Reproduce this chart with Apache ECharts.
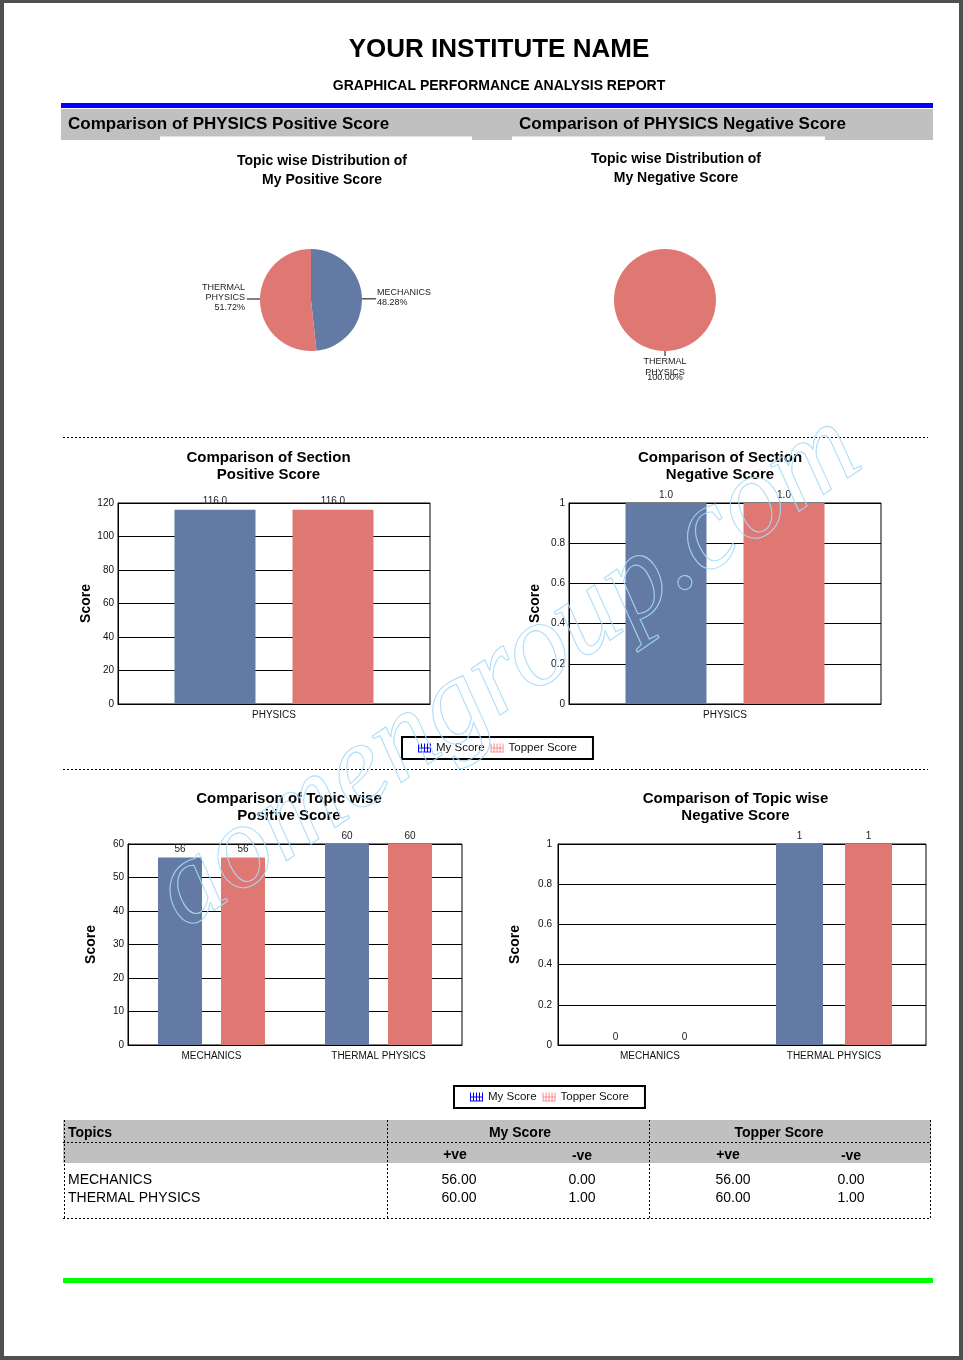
<!DOCTYPE html>
<html><head><meta charset="utf-8">
<script src="https://cdn.jsdelivr.net/npm/echarts@6/dist/echarts.min.js"></script>
<style>html,body{margin:0;padding:0;background:#fff;}#c{width:963px;height:1360px;}</style>
</head><body><div id="c"></div>
<script>
// ---------- data ----------
const topics = ['MECHANICS', 'THERMAL PHYSICS'];
const sections = ['PHYSICS'];
const seriesNames = ['My Score', 'Topper Score'];
const myPositive = [56, 60];
const myNegative = [0, 1];
const topperPositive = [56, 60];
const topperNegative = [0, 1];
const mySectionPositive = [116];
const topperSectionPositive = [116];
const mySectionNegative = [1];
const topperSectionNegative = [1];
const sectionPosTicks = [0, 120, 20];
const sectionNegTicks = [0, 1, 0.2];
const topicPosTicks = [0, 60, 10];
const topicNegTicks = [0, 1, 0.2];

// ---------- styles ----------
const FONT = '"Liberation Sans", Arial, sans-serif';
const BLUE = '#637ba4', RED = '#df7872';
const HATCH = 'path://M0,1h1v9h-1z M3,1h1v9h-1z M6,1h1v9h-1z M9,1h1v9h-1z M12,1h1v9h-1z M0,5h13v1h-13z M0,9h13v1.2h-13z';

const chart = echarts.init(document.getElementById('c'), null, {renderer: 'canvas'});

const grids = [
  {left: 118, top: 503, width: 312, height: 201},
  {left: 569, top: 503, width: 312, height: 201},
  {left: 128, top: 844, width: 334, height: 201},
  {left: 558, top: 844, width: 368, height: 201}
];
const nameGaps = [24, 27, 30, 36];
const ticks = [sectionPosTicks, sectionNegTicks, topicPosTicks, topicNegTicks];
const cats = [sections, sections, topics, topics];

const xAxes = grids.map((g, i) => ({
  type: 'category', gridIndex: i, data: cats[i],
  axisLine: {show: true, lineStyle: {color: '#000', width: 1}},
  axisTick: {show: false},
  axisLabel: {fontSize: 10, color: '#111', margin: 6, fontFamily: FONT}
}));
const yAxes = grids.map((g, i) => ({
  type: 'value', gridIndex: i, min: ticks[i][0], max: ticks[i][1], interval: ticks[i][2],
  axisLine: {show: true, lineStyle: {color: '#000', width: 1}},
  axisTick: {show: false},
  splitLine: {show: true, lineStyle: {color: '#000', width: 1}},
  axisLabel: {fontSize: 10, color: '#111', margin: i === 3 ? 6 : 4, fontFamily: FONT},
  name: 'Score', nameLocation: 'middle', nameRotate: 90, nameGap: nameGaps[i],
  nameTextStyle: {fontSize: 14, fontWeight: 'bold', color: '#000', fontFamily: FONT}
}));

function barSeries(name, data, idx, color, width, gap, fmt) {
  return {
    type: 'bar', name: name, xAxisIndex: idx, yAxisIndex: idx, data: data,
    barWidth: width, barGap: gap, itemStyle: {color: color},
    label: {show: true, position: 'top', distance: 3, fontSize: 10, color: '#222', fontFamily: FONT,
            formatter: p => fmt(p.value)},
    emphasis: {disabled: true}
  };
}
const f1 = v => v.toFixed(1), f0 = v => String(v);

const series = [
  barSeries(seriesNames[0], mySectionPositive, 0, BLUE, 81, '45.7%', f1),
  barSeries(seriesNames[1], topperSectionPositive, 0, RED, 81, '45.7%', f1),
  barSeries(seriesNames[0], mySectionNegative, 1, BLUE, 81, '45.7%', f1),
  barSeries(seriesNames[1], topperSectionNegative, 1, RED, 81, '45.7%', f1),
  barSeries(seriesNames[0], myPositive, 2, BLUE, 44, '43.2%', f0),
  barSeries(seriesNames[1], topperPositive, 2, RED, 44, '43.2%', f0),
  barSeries(seriesNames[0], myNegative, 3, BLUE, 47, '46.8%', f0),
  barSeries(seriesNames[1], topperNegative, 3, RED, 47, '46.8%', f0)
];

const pieColors = [BLUE, RED];
function pieLabelFmt(p) {
  return p.name.split(' ').join('\n') + '\n' + p.percent.toFixed(2) + '%';
}
series.push({
  type: 'pie', center: [311, 300], radius: 51, startAngle: 90, clockwise: true,
  silent: true, avoidLabelOverlap: false,
  data: topics.map((t, i) => ({name: t, value: myPositive[i], itemStyle: {color: pieColors[i]}})),
  label: {show: true, position: 'outside', fontSize: 9, lineHeight: 10, color: '#222', fontFamily: FONT,
          formatter: pieLabelFmt, distanceToLabelLine: 2},
  labelLine: {show: true, length: 14, length2: 0, lineStyle: {color: '#000', width: 1}},
  labelLayout: function (params) {
    const r = params.rect;
    const cy = r.y + r.height / 2;
    const left = r.x + r.width / 2 < 311;
    const ex = left ? r.x : r.x + r.width;
    const lx = left ? ex - 13 : ex + 14;
    return {x: left ? lx - 2 : lx + 1, y: cy - 2, align: left ? 'right' : 'left', verticalAlign: 'middle',
            labelLinePoints: [[ex, cy - 1], [lx, cy - 1], [lx, cy - 1]]};
  }
});
series.push({
  type: 'pie', center: [665, 300], radius: 51, startAngle: 90, clockwise: true,
  silent: true, avoidLabelOverlap: false,
  data: topics.map((t, i) => ({
    name: t, value: myNegative[i], itemStyle: {color: pieColors[i]},
    label: {show: myNegative[i] > 0}, labelLine: {show: myNegative[i] > 0}
  })),
  label: {show: true, position: 'outside', fontFamily: FONT, color: '#222',
          formatter: p => '{a|' + p.name.split(' ').join('}\n{a|') + '}\n{b|' + p.percent.toFixed(2) + '%}',
          rich: {a: {fontSize: 9, lineHeight: 11, color: '#222'}, b: {fontSize: 9, lineHeight: 0, color: '#222'}}},
  labelLine: {show: true, length: 5, length2: 0, lineStyle: {color: '#000', width: 1}},
  labelLayout: function (params) {
    const r = params.rect;
    const cx = r.x + r.width / 2, by = r.y + r.height;
    return {x: cx, y: by + 5, align: 'center', verticalAlign: 'top',
            labelLinePoints: [[cx, by], [cx, by + 5], [cx, by + 5]]};
  }
});

function legendAt(left, top) {
  return {
    left: left, top: top, orient: 'horizontal', selectedMode: false,
    itemWidth: 13, itemHeight: 10, itemGap: 6, padding: [5, 16, 5, 16],
    borderColor: '#000', borderWidth: 2, backgroundColor: '#fff',
    textStyle: {fontSize: 11.5, color: '#111', fontFamily: FONT},
    data: [
      {name: seriesNames[0], icon: HATCH, itemStyle: {color: '#0000ff'}},
      {name: seriesNames[1], icon: HATCH, itemStyle: {color: '#ff8c8c'}}
    ]
  };
}

// ---------- static page elements ----------
const G = [];
function txt(x, y, s, font, align, color) {
  G.push({type: 'text', x: x, y: y, silent: true, z: 10,
    style: {text: s, font: font, fill: color || '#000', align: align || 'left', verticalAlign: 'middle',
            textAlign: align || 'left', textVerticalAlign: 'middle'}});
}
function rect(x, y, w, h, fill, z) {
  G.push({type: 'rect', shape: {x: x, y: y, width: w, height: h}, silent: true, z: z == null ? -5 : z, style: {fill: fill}});
}
function dline(x1, y1, x2, y2) {
  G.push({type: 'line', shape: {x1: x1, y1: y1, x2: x2, y2: y2}, silent: true, z: 5,
    style: {stroke: '#000', lineWidth: 1, lineDash: [2, 2]}});
}
const B = 'bold ';
txt(499, 50, 'YOUR INSTITUTE NAME', B + '26px ' + FONT, 'center');
txt(499, 86, 'GRAPHICAL PERFORMANCE ANALYSIS REPORT', B + '14px ' + FONT, 'center');
rect(61, 103, 872, 5, '#0000ff');
rect(61, 109, 872, 27.5, '#c0c0c0');
rect(61, 136, 99, 4, '#c0c0c0');
rect(472, 136, 40, 4, '#c0c0c0');
rect(825, 136, 108, 4, '#c0c0c0');
txt(68, 124, 'Comparison of PHYSICS Positive Score', B + '17px ' + FONT);
txt(519, 124, 'Comparison of PHYSICS Negative Score', B + '17px ' + FONT);

txt(322, 161, 'Topic wise Distribution of', B + '14px ' + FONT, 'center');
txt(322, 180, 'My Positive Score', B + '14px ' + FONT, 'center');
txt(676, 159, 'Topic wise Distribution of', B + '14px ' + FONT, 'center');
txt(676, 178, 'My Negative Score', B + '14px ' + FONT, 'center');

dline(63, 437.5, 928, 437.5);
dline(63, 769.5, 928, 769.5);

const T15 = B + '15px ' + FONT;
txt(268.5, 458, 'Comparison of Section', T15, 'center');
txt(268.5, 475, 'Positive Score', T15, 'center');
txt(720, 458, 'Comparison of Section', T15, 'center');
txt(720, 475, 'Negative Score', T15, 'center');
txt(289, 799, 'Comparison of Topic wise', T15, 'center');
txt(289, 816, 'Positive Score', T15, 'center');
txt(735.5, 799, 'Comparison of Topic wise', T15, 'center');
txt(735.5, 816, 'Negative Score', T15, 'center');

// table
rect(63, 1120, 868, 43, '#c0c0c0');
dline(63, 1142.5, 931, 1142.5);
dline(63, 1218.5, 931, 1218.5);
[64.5, 387.5, 649.5, 930.5].forEach(x => dline(x, 1120, x, 1218));
txt(68, 1133, 'Topics', B + '14px ' + FONT);
txt(520, 1133, 'My Score', B + '14px ' + FONT, 'center');
txt(779, 1133, 'Topper Score', B + '14px ' + FONT, 'center');
txt(455, 1155, '+ve', B + '14px ' + FONT, 'center');
txt(582, 1156, '-ve', B + '14px ' + FONT, 'center');
txt(728, 1155, '+ve', B + '14px ' + FONT, 'center');
txt(851, 1156, '-ve', B + '14px ' + FONT, 'center');
topics.forEach((t, i) => {
  const y = 1180 + i * 18.5;
  txt(68, y, t, '14px ' + FONT);
  txt(459, y, myPositive[i].toFixed(2), '14px ' + FONT, 'center');
  txt(582, y, myNegative[i].toFixed(2), '14px ' + FONT, 'center');
  txt(733, y, topperPositive[i].toFixed(2), '14px ' + FONT, 'center');
  txt(851, y, topperNegative[i].toFixed(2), '14px ' + FONT, 'center');
});

rect(63, 1278, 870, 5, '#00ff00');

// watermark
G.push({type: 'text', x: 508, y: 672, rotation: 34.3 * Math.PI / 180, silent: true, z: 50,
  style: {text: 'aomengroup.com', font: 'italic 119px "Liberation Serif", serif', fill: 'rgba(0,0,0,0)',
          stroke: '#a6daf8', lineWidth: 1.1, opacity: 0.9,
          align: 'center', verticalAlign: 'middle', textAlign: 'center', textVerticalAlign: 'middle'}});

// page frame
rect(0, 0, 963, 3, '#505050', 100);
rect(0, 1356, 963, 4, '#505050', 100);
rect(0, 0, 4, 1360, '#505050', 100);
rect(959, 0, 4, 1360, '#505050', 100);

chart.setOption({
  animation: false,
  backgroundColor: '#fff',
  textStyle: {fontFamily: FONT},
  grid: grids.map(g => Object.assign({show: true, borderColor: '#000', borderWidth: 1, containLabel: false}, g)),
  xAxis: xAxes,
  yAxis: yAxes,
  legend: [legendAt(402, 737), legendAt(454, 1086)],
  series: series,
  graphic: {elements: G}
});
</script>
</body></html>
